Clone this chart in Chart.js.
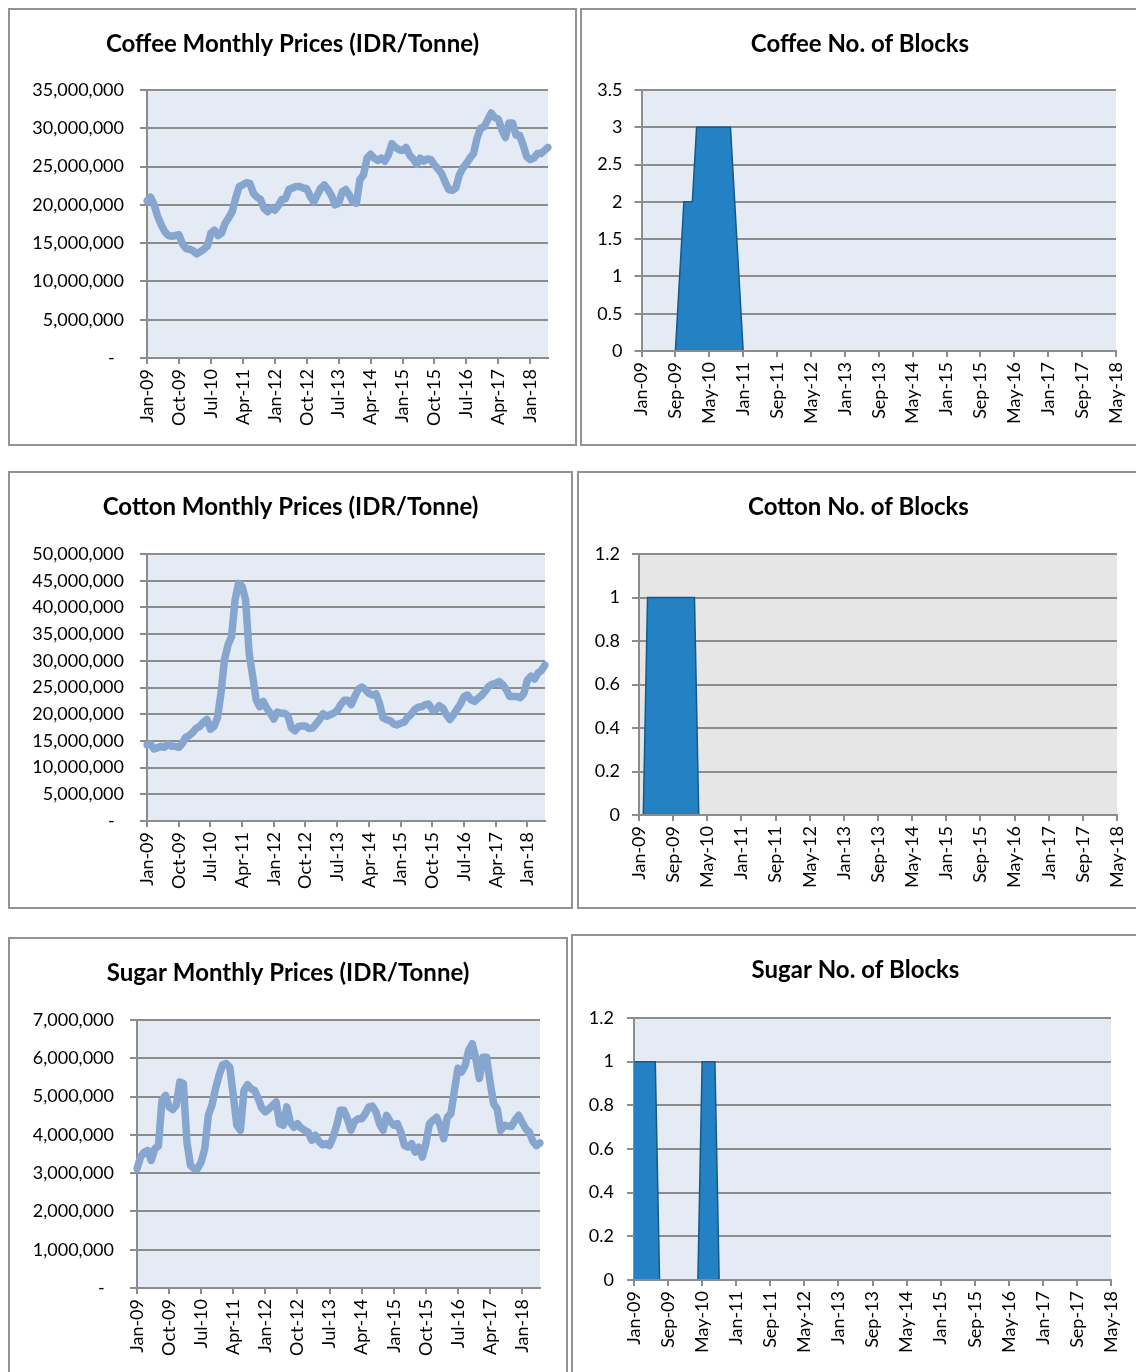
<!DOCTYPE html>
<html>
<head>
<meta charset="utf-8">
<script src="https://cdn.jsdelivr.net/npm/chart.js@4.4.0/dist/chart.umd.min.js"></script>
<style>
  body { margin: 0; background: #fff; width: 1136px; height: 1372px; overflow: hidden; position: relative; }
  .panel { position: absolute; border: 2px solid #939393; box-sizing: border-box; background: #fff; }
  .panel canvas { position: absolute; left: 0; top: 0; }
</style>
</head>
<body>
<div class="panel" style="left:8px;top:8px;width:569px;height:438px"><canvas id="coffeePrice" width="565" height="434"></canvas></div>
<div class="panel" style="left:580px;top:8px;width:560px;height:438px"><canvas id="coffeeBlocks" width="556" height="434"></canvas></div>
<div class="panel" style="left:8px;top:471px;width:565px;height:438px"><canvas id="cottonPrice" width="561" height="434"></canvas></div>
<div class="panel" style="left:577px;top:471px;width:563px;height:438px"><canvas id="cottonBlocks" width="559" height="434"></canvas></div>
<div class="panel" style="left:8px;top:937px;width:560px;height:445px"><canvas id="sugarPrice" width="556" height="441"></canvas></div>
<div class="panel" style="left:571px;top:934px;width:569px;height:448px"><canvas id="sugarBlocks" width="565" height="444"></canvas></div>

<script>
// month labels Jan-09 ... Jun-18
var MONTHS = ['Jan', 'Feb', 'Mar', 'Apr', 'May', 'Jun', 'Jul', 'Aug', 'Sep', 'Oct', 'Nov', 'Dec'];
var YEARS = ['09', '10', '11', '12', '13', '14', '15', '16', '17', '18'];
var priceMonths = [];
for (var y = 0; y < YEARS.length; y++) {
  for (var m = 0; m < 12; m++) {
    if (y === 9 && m > 5) break;
    priceMonths.push(MONTHS[m] + '-' + YEARS[y]);
  }
}
// block charts run Jan-09 ... May-18
var blockMonths = priceMonths.slice(0, 113);

// prices, million IDR per tonne
var coffeePriceM = [
  20.5, 21.0, 20.0, 18.5, 17.4, 16.5, 16.0, 15.9, 16.0, 16.1, 14.9, 14.3,
  14.2, 14.0, 13.6, 13.9, 14.2, 14.6, 16.3, 16.7, 16.0, 16.3, 17.6, 18.3,
  19.1, 20.9, 22.4, 22.6, 22.9, 22.8, 21.5, 21.0, 20.7, 19.5, 19.1, 19.6,
  19.3, 19.9, 20.7, 20.8, 22.0, 22.2, 22.4, 22.4, 22.2, 22.1, 21.1, 20.4,
  21.3, 22.2, 22.6, 22.0, 21.2, 20.0, 20.2, 21.7, 22.0, 21.3, 20.4, 20.2,
  23.3, 23.9, 26.1, 26.6, 26.1, 25.8, 26.1, 25.7, 26.5, 28.0, 27.5, 27.2,
  27.1, 27.5, 26.5, 26.0, 25.3, 26.1, 25.7, 26.0, 25.9, 25.2, 24.7, 24.1,
  23.0, 22.0, 21.9, 22.2, 23.9, 24.8, 25.4, 26.1, 26.7, 28.7, 30.0, 30.2,
  31.1, 32.0, 31.4, 31.2, 29.8, 28.8, 30.7, 30.7, 29.1, 29.1, 27.8, 26.3,
  25.9, 26.1, 26.7, 26.7, 27.1, 27.5
];
var cottonPriceM = [
  14.3, 14.4, 13.5, 13.7, 14.0, 13.8, 14.4, 14.0, 14.0, 13.8, 14.5, 15.7,
  16.0, 16.6, 17.4, 17.7, 18.5, 19.0, 17.2, 17.7, 19.3, 23.9, 30.2, 33.0,
  34.5, 41.4, 44.5, 43.9, 41.4, 31.4, 27.1, 22.7, 21.4, 22.4, 21.1, 20.2,
  19.1, 20.4, 20.2, 20.2, 19.7, 17.4, 16.9, 17.7, 17.8, 17.8, 17.3, 17.4,
  18.2, 19.0, 20.1, 19.6, 19.9, 20.2, 20.7, 21.8, 22.6, 22.6, 21.8, 23.3,
  24.7, 25.1, 24.6, 23.9, 23.6, 23.8, 22.1, 19.3, 19.0, 18.8, 18.2, 18.0,
  18.3, 18.5, 19.4, 20.0, 20.9, 21.3, 21.4, 21.8, 21.9, 20.8, 20.8, 21.6,
  21.1, 19.9, 19.0, 19.9, 20.9, 21.9, 23.3, 23.6, 22.7, 22.4, 23.0, 23.5,
  24.3, 25.2, 25.6, 25.8, 26.1, 25.5, 24.6, 23.3, 23.3, 23.3, 23.1, 23.9,
  26.4, 27.1, 26.6, 27.7, 28.2, 29.2
];
var sugarPriceM = [
  3.12, 3.42, 3.55, 3.59, 3.33, 3.64, 3.71, 4.90, 5.03, 4.73, 4.66, 4.77,
  5.38, 5.34, 3.81, 3.20, 3.12, 3.12, 3.29, 3.64, 4.51, 4.77, 5.20, 5.55,
  5.83, 5.86, 5.77, 5.03, 4.25, 4.12, 5.16, 5.31, 5.20, 5.16, 4.94, 4.70,
  4.60, 4.68, 4.77, 4.86, 4.29, 4.25, 4.73, 4.33, 4.20, 4.29, 4.18, 4.12,
  4.07, 3.86, 3.99, 3.83, 3.74, 3.77, 3.72, 3.94, 4.25, 4.64, 4.64, 4.42,
  4.12, 4.35, 4.42, 4.42, 4.55, 4.73, 4.75, 4.60, 4.29, 4.12, 4.51, 4.35,
  4.25, 4.29, 4.07, 3.72, 3.68, 3.77, 3.55, 3.68, 3.42, 3.77, 4.29, 4.38,
  4.46, 4.25, 3.90, 4.46, 4.55, 5.16, 5.74, 5.64, 5.81, 6.21, 6.38, 5.99,
  5.47, 6.03, 6.03, 5.38, 4.81, 4.68, 4.12, 4.25, 4.23, 4.22, 4.38, 4.51,
  4.33, 4.16, 4.07, 3.83, 3.72, 3.79
];

// number of blocks, Jan-09 ... May-18
var coffeeBlocks = [
  0, 0, 0, 0, 0, 0, 0, 0, 0, 1, 2, 2,
  2, 3, 3, 3, 3, 3, 3, 3, 3, 3, 2, 1,
  0, 0, 0, 0, 0, 0, 0, 0, 0, 0, 0, 0,
  0, 0, 0, 0, 0, 0, 0, 0, 0, 0, 0, 0,
  0, 0, 0, 0, 0, 0, 0, 0, 0, 0, 0, 0,
  0, 0, 0, 0, 0, 0, 0, 0, 0, 0, 0, 0,
  0, 0, 0, 0, 0, 0, 0, 0, 0, 0, 0, 0,
  0, 0, 0, 0, 0, 0, 0, 0, 0, 0, 0, 0,
  0, 0, 0, 0, 0, 0, 0, 0, 0, 0, 0, 0,
  0, 0, 0, 0, 0
];
var cottonBlocks = [
  0, 0, 1, 1, 1, 1, 1, 1, 1, 1, 1, 1,
  1, 1, 0, 0, 0, 0, 0, 0, 0, 0, 0, 0,
  0, 0, 0, 0, 0, 0, 0, 0, 0, 0, 0, 0,
  0, 0, 0, 0, 0, 0, 0, 0, 0, 0, 0, 0,
  0, 0, 0, 0, 0, 0, 0, 0, 0, 0, 0, 0,
  0, 0, 0, 0, 0, 0, 0, 0, 0, 0, 0, 0,
  0, 0, 0, 0, 0, 0, 0, 0, 0, 0, 0, 0,
  0, 0, 0, 0, 0, 0, 0, 0, 0, 0, 0, 0,
  0, 0, 0, 0, 0, 0, 0, 0, 0, 0, 0, 0,
  0, 0, 0, 0, 0
];
var sugarBlocks = [
  1, 1, 1, 1, 1, 1, 0, 0, 0, 0, 0, 0,
  0, 0, 0, 0, 1, 1, 1, 1, 0, 0, 0, 0,
  0, 0, 0, 0, 0, 0, 0, 0, 0, 0, 0, 0,
  0, 0, 0, 0, 0, 0, 0, 0, 0, 0, 0, 0,
  0, 0, 0, 0, 0, 0, 0, 0, 0, 0, 0, 0,
  0, 0, 0, 0, 0, 0, 0, 0, 0, 0, 0, 0,
  0, 0, 0, 0, 0, 0, 0, 0, 0, 0, 0, 0,
  0, 0, 0, 0, 0, 0, 0, 0, 0, 0, 0, 0,
  0, 0, 0, 0, 0, 0, 0, 0, 0, 0, 0, 0,
  0, 0, 0, 0, 0
];

var GRID = '#8c8c8c';
var BLUE_BG = '#e4ebf5';
var GREY_BG = '#e6e6e6';

Chart.defaults.font.family = 'Lato, "Open Sans", sans-serif';
Chart.defaults.font.size = 18;
Chart.defaults.color = '#000';

// fills the plot area
var plotBg = {
  id: 'plotBg',
  beforeDraw: function (chart, args, opts) {
    var a = chart.chartArea, ctx = chart.ctx;
    ctx.save();
    ctx.fillStyle = opts.color;
    ctx.fillRect(a.left, a.top, a.right - a.left, a.bottom - a.top);
    ctx.restore();
  }
};

// box = plot area inside the canvas: left, top, right space, bottom space
function makeChart(id, title, labels, dataset, box, yOpts, every, bg) {
  return new Chart(document.getElementById(id), {
    type: 'line',
    data: { labels: labels, datasets: [dataset] },
    plugins: [plotBg],
    options: {
      responsive: false,
      animation: false,
      layout: { padding: 0 },
      plugins: {
        legend: { display: false },
        tooltip: { enabled: false },
        plotBg: { color: bg },
        title: {
          display: true,
          text: title,
          font: { size: 24, weight: 'bold' },
          color: '#000',
          padding: { top: 19.6, bottom: box.top - 48.4 }
        }
      },
      scales: {
        x: {
          type: 'category',
          offset: false,
          afterFit: function (s) {
            s.height = box.bottom;
            s.paddingLeft = 0;
            s.paddingRight = 0;
          },
          border: { color: GRID, width: 2, z: 1 },
          grid: {
            drawOnChartArea: false,
            drawTicks: true,
            tickLength: 6,
            lineWidth: 2,
            tickColor: function (c) { return c.index % every === 0 ? GRID : 'rgba(0,0,0,0)'; }
          },
          ticks: {
            autoSkip: false,
            minRotation: 90,
            maxRotation: 90,
            padding: 5,
            callback: function (v, i) { return i % every === 0 ? this.getLabelForValue(v) : ''; }
          }
        },
        y: {
          min: yOpts.min,
          max: yOpts.max,
          afterFit: function (s) { s.width = box.left; },
          border: { color: GRID, width: 2 },
          grid: { color: GRID, lineWidth: 2, tickLength: 7, tickColor: GRID },
          ticks: {
            stepSize: yOpts.step,
            padding: yOpts.pad,
            callback: yOpts.fmt
          }
        },
        // empty right axis, only keeps space right of the plot
        yR: {
          position: 'right',
          display: true,
          grid: { display: false },
          border: { display: false },
          ticks: { display: false },
          afterFit: function (s) { s.width = box.right; }
        }
      }
    }
  });
}

function priceFmt(v) { return v === 0 ? '-  ' : v.toLocaleString('en-US'); }
function blockFmt(v) { return String(Math.round(v * 10) / 10); }

function priceSet(vals) {
  return {
    data: vals.map(function (v) { return v * 1000000; }),
    borderColor: '#86a6d0',
    borderWidth: 7.5,
    borderJoinStyle: 'round',
    borderCapStyle: 'round',
    pointRadius: 0,
    tension: 0,
    fill: false
  };
}
function blockSet(vals) {
  return {
    data: vals,
    borderColor: '#14598b',
    backgroundColor: '#2481c3',
    borderWidth: 1.5,
    pointRadius: 0,
    tension: 0,
    fill: 'origin'
  };
}

makeChart('coffeePrice', 'Coffee Monthly Prices (IDR/Tonne)', priceMonths, priceSet(coffeePriceM),
  { left: 137, top: 80, right: 27, bottom: 86 },
  { min: 0, max: 35000000, step: 5000000, pad: 16, fmt: priceFmt }, 9, BLUE_BG);

makeChart('coffeeBlocks', 'Coffee No. of Blocks', blockMonths, blockSet(coffeeBlocks),
  { left: 59.5, top: 80, right: 22, bottom: 93 },
  { min: 0, max: 3.5, step: 0.5, pad: 12, fmt: blockFmt }, 8, BLUE_BG);

makeChart('cottonPrice', 'Cotton Monthly Prices (IDR/Tonne)', priceMonths, priceSet(cottonPriceM),
  { left: 137, top: 81, right: 26, bottom: 86 },
  { min: 0, max: 50000000, step: 5000000, pad: 16, fmt: priceFmt }, 9, BLUE_BG);

makeChart('cottonBlocks', 'Cotton No. of Blocks', blockMonths, blockSet(cottonBlocks),
  { left: 60, top: 81, right: 21, bottom: 92 },
  { min: 0, max: 1.2, step: 0.2, pad: 12, fmt: blockFmt }, 8, GREY_BG);

makeChart('sugarPrice', 'Sugar Monthly Prices (IDR/Tonne)', priceMonths, priceSet(sugarPriceM),
  { left: 127, top: 81, right: 26, bottom: 92 },
  { min: 0, max: 7000000, step: 1000000, pad: 16, fmt: priceFmt }, 9, BLUE_BG);

makeChart('sugarBlocks', 'Sugar No. of Blocks', blockMonths, blockSet(sugarBlocks),
  { left: 61, top: 82, right: 27, bottom: 100 },
  { min: 0, max: 1.2, step: 0.2, pad: 13, fmt: blockFmt }, 8, BLUE_BG);
</script>
</body>
</html>
